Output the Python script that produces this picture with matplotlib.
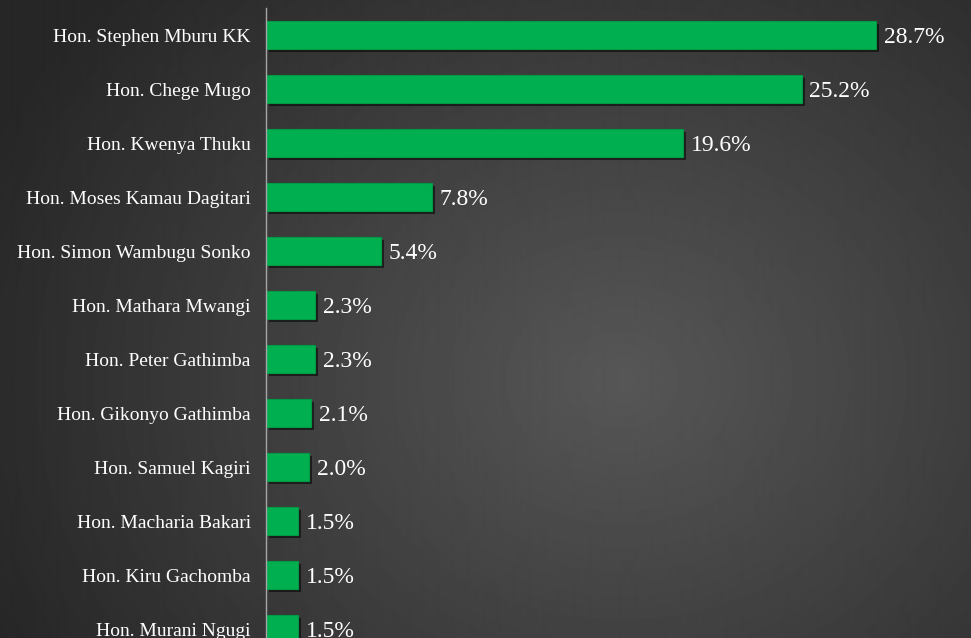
import numpy as np
import matplotlib
matplotlib.use("Agg")
import matplotlib.pyplot as plt
import matplotlib.patheffects as pe

# ---------------------------------------------------------------- data
names = [
    "Hon. Stephen Mburu KK", "Hon. Chege Mugo", "Hon. Kwenya Thuku",
    "Hon. Moses Kamau Dagitari", "Hon. Simon Wambugu Sonko",
    "Hon. Mathara Mwangi", "Hon. Peter Gathimba", "Hon. Gikonyo Gathimba",
    "Hon. Samuel Kagiri", "Hon. Macharia Bakari", "Hon. Kiru Gachomba",
    "Hon. Murani Ngugi",
]
values = [28.7, 25.2, 19.6, 7.8, 5.4, 2.3, 2.3, 2.1, 2.0, 1.5, 1.5, 1.5]

W, H, DPI = 971, 638, 100
fig = plt.figure(figsize=(W / DPI, H / DPI), dpi=DPI)

# ---------------------------------------------------------------- background (radial gradient)
bg = fig.add_axes([0, 0, 1, 1], zorder=0)
yy, xx = np.mgrid[0:H, 0:W]
r = np.sqrt(((xx - 620) / 620.0) ** 2 + ((yy - 380) / 520.0) ** 2)
shade = np.clip(0.34 - 0.17 * r, 0.15, 0.36)
bg.imshow(shade, cmap="gray", vmin=0, vmax=1, aspect="auto",
          extent=[0, 1, 0, 1], interpolation="bilinear")
bg.axis("off")

# ---------------------------------------------------------------- bars
x0, px_per_pct = 266, 21.25
top, center0, step = 8, 35, 54
ax = fig.add_axes([x0 / W, 0, 1 - x0 / W, (H - top) / H], zorder=1)
ax.patch.set_alpha(0)
pos = np.arange(len(values))
shadow = [pe.SimplePatchShadow(offset=(2.5, -2.5), shadow_rgbFace="black", alpha=0.55),
          pe.Normal()]
bars = ax.barh(pos, values, height=28 / step, color="#00B050",
               edgecolor="#009944", linewidth=0.8)
for b in bars:
    b.set_path_effects(shadow)

ax.set_xlim(0, (W - x0) / px_per_pct)
ax.set_ylim((H - center0) / step, -(center0 - top) / step)

for p, v in zip(pos, values):
    ax.text(v + 8 / px_per_pct, p + 0.04, f"{v:.1f}%", va="center", ha="left",
            color="white", fontsize=17, family="Liberation Serif")

ax.set_yticks(pos)
ax.set_yticklabels(names, family="Liberation Serif", fontsize=14, color="white")
ax.tick_params(axis="y", length=0, pad=11)
ax.set_xticks([])
for s in ["top", "right", "bottom"]:
    ax.spines[s].set_visible(False)
ax.spines["left"].set_color("#a6a6a6")
ax.spines["left"].set_linewidth(1)

fig.savefig("out.png", dpi=DPI)
